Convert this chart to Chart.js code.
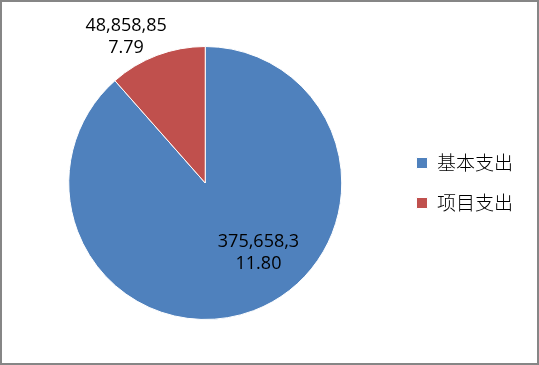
<!DOCTYPE html>
<html>
<head>
<meta charset="utf-8">
<script src="https://cdn.jsdelivr.net/npm/chart.js@4.4.1/dist/chart.umd.min.js"></script>
<style>
  body { margin: 0; background: #fff; }
  #wrap { width: 539px; height: 365px; box-sizing: border-box; border: 2px solid #868686; background: #fff; }
  canvas { display: block; }
</style>
</head>
<body>
<div id="wrap"><canvas id="pie" width="535" height="361"></canvas></div>
<script>
// datos del grafico
var categorias = ['基本支出', '项目支出'];
var valores = [375658311.80, 48858857.79];
var colores = ['#4F81BD', '#C0504D'];

// posicion de las etiquetas (fraccion del radio, respecto al centro)
var posEtiquetas = [[0.39, 0.51], [-0.58, -1.07]];

function formato(v) {
  var s = v.toLocaleString('en-US', { minimumFractionDigits: 2, maximumFractionDigits: 2 });
  // Excel parte la etiqueta en dos lineas
  return [s.slice(0, 9), s.slice(9)];
}

var etiquetas = {
  id: 'etiquetas',
  afterDatasetsDraw: function (chart) {
    var ctx = chart.ctx;
    var meta = chart.getDatasetMeta(0);
    ctx.save();
    ctx.font = '18px "Open Sans"';
    ctx.fillStyle = '#000';
    ctx.textAlign = 'center';
    ctx.textBaseline = 'middle';
    meta.data.forEach(function (arc, i) {
      var r = arc.outerRadius;
      var x = arc.x + posEtiquetas[i][0] * r;
      var y = arc.y + posEtiquetas[i][1] * r;
      var lineas = formato(valores[i]);
      ctx.fillText(lineas[0], x, y - 11);
      ctx.fillText(lineas[1], x, y + 11);
    });
    ctx.restore();
  }
};

var ctx = document.getElementById('pie');
var grafico = new Chart(ctx, {
  type: 'pie',
  data: {
    labels: categorias,
    datasets: [{
      data: valores,
      backgroundColor: colores,
      borderColor: '#ffffff',
      borderWidth: 1
    }]
  },
  options: {
    responsive: false,
    animation: false,
    devicePixelRatio: 1,
    layout: { padding: { top: 44, bottom: 43, left: 13, right: 14 } },
    plugins: {
      legend: {
        position: 'right',
        labels: {
          boxWidth: 11,
          boxHeight: 11,
          padding: 21,
          color: '#000',
          font: { family: '"Noto Sans CJK SC"', size: 19, weight: 300 }
        }
      },
      tooltip: { enabled: false }
    }
  },
  plugins: [etiquetas]
});
</script>
</body>
</html>
